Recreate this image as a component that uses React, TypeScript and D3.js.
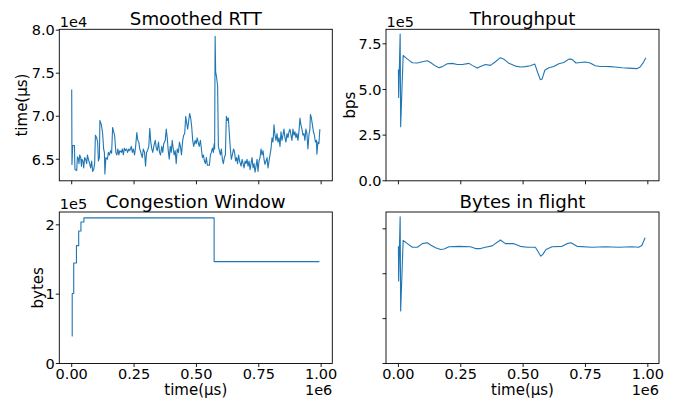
import React from 'react';
import * as d3 from 'd3';

// smoothed RTT, time in ms, value in µs
const rttTimeMs = [0, 1, 4, 11, 13, 20, 23, 27, 29, 32, 36, 39, 41, 45, 48, 52, 56, 60, 63, 67, 71, 76, 80, 84, 88, 92, 95, 100, 104, 107, 111, 113, 119, 124, 128, 131, 133, 137, 143, 147, 151, 156, 160, 164, 168, 172, 177, 181, 185, 189, 193, 199, 203, 207, 211, 215, 220, 224, 229, 233, 239, 243, 247, 252, 256, 261, 265, 269, 273, 277, 283, 287, 292, 296, 300, 304, 309, 313, 317, 321, 325, 329, 335, 339, 343, 348, 352, 356, 361, 365, 369, 375, 379, 383, 387, 391, 395, 399, 403, 407, 411, 415, 419, 423, 428, 432, 436, 440, 445, 449, 453, 457, 461, 465, 469, 473, 477, 481, 485, 489, 495, 499, 503, 507, 511, 516, 520, 524, 528, 532, 536, 540, 544, 548, 552, 556, 560, 564, 568, 571, 573, 575, 577, 581, 585, 588, 592, 596, 600, 604, 608, 612, 616, 620, 624, 628, 632, 636, 640, 644, 649, 653, 657, 661, 665, 669, 673, 679, 683, 687, 691, 695, 699, 703, 707, 711, 715, 719, 723, 727, 731, 735, 739, 743, 747, 751, 755, 759, 763, 767, 771, 775, 779, 783, 787, 791, 795, 799, 803, 807, 811, 815, 819, 823, 827, 831, 835, 839, 843, 847, 851, 855, 859, 863, 867, 871, 875, 879, 883, 887, 891, 895, 899, 903, 907, 911, 915, 919, 923, 927, 931, 935, 939, 943, 947, 951, 955, 957, 961, 965, 969, 973, 977, 981, 983, 987, 991, 995];
const rttValue = [73100, 64400, 66600, 66600, 63800, 63700, 65300, 65000, 64500, 65500, 65200, 64200, 65000, 64800, 64000, 65200, 65000, 64500, 65500, 65000, 64600, 64000, 64800, 63600, 63800, 64500, 67800, 67500, 67000, 64800, 65200, 69500, 69000, 68000, 66200, 65800, 63300, 65200, 65000, 65800, 65500, 66000, 65700, 68700, 68200, 67800, 65800, 65500, 66200, 65500, 66000, 65800, 66200, 65500, 66300, 66000, 66200, 65800, 66200, 66000, 66500, 65800, 66200, 65500, 66400, 68100, 67200, 67000, 66200, 65800, 65200, 66200, 65800, 64200, 65800, 66000, 66500, 68600, 67000, 66200, 65800, 66500, 67200, 66300, 66000, 67000, 65800, 65500, 66500, 65800, 66800, 67200, 68500, 67500, 66000, 65000, 66500, 65800, 67200, 66200, 65500, 66000, 64500, 66200, 65800, 67000, 66500, 65500, 67200, 67800, 68000, 70000, 69200, 68500, 69500, 70300, 69800, 68800, 67200, 66500, 67200, 66800, 67500, 67000, 66500, 67200, 66200, 65200, 65500, 64800, 64500, 65200, 64300, 64300, 64300, 65500, 65800, 66300, 65800, 66800, 66200, 79300, 75200, 74500, 73500, 66500, 66000, 65500, 66200, 65000, 64500, 65200, 65500, 70000, 69500, 69800, 68000, 66200, 65000, 65500, 66200, 65800, 64800, 65200, 64500, 65500, 64800, 64200, 65000, 64500, 64000, 64800, 64500, 65000, 64200, 64800, 63800, 64500, 65200, 64000, 64500, 63500, 64200, 65000, 63600, 64800, 65200, 66200, 65500, 66000, 65000, 64400, 64800, 65200, 64000, 64800, 65500, 66200, 67500, 67000, 69000, 67800, 67200, 68000, 67000, 67500, 66500, 68200, 67200, 67800, 68500, 67500, 67000, 68000, 67500, 68200, 68500, 67800, 67200, 68500, 67800, 68200, 67500, 68000, 67200, 68200, 69800, 69000, 68500, 67800, 68000, 67200, 68500, 68000, 66200, 67800, 68500, 70200, 69800, 69000, 68200, 67800, 67000, 67200, 65600, 67000, 66800, 68500];

// throughput, bps
const tputTimeMs = [0, 1, 7, 9, 19, 29, 43, 56, 76, 96, 116, 129, 149, 163, 176, 196, 216, 236, 256, 283, 296, 316, 329, 349, 369, 389, 409, 423, 443, 469, 489, 509, 529, 547, 559, 569, 576, 587, 603, 623, 643, 663, 683, 696, 712, 729, 749, 769, 789, 809, 829, 849, 869, 896, 923, 956, 969, 983, 992];
const tputValue = [610000, 456000, 804000, 296000, 686000, 674000, 659000, 646000, 645000, 652000, 657000, 648000, 628000, 619000, 625000, 641000, 643000, 637000, 637000, 643000, 632000, 617000, 626000, 637000, 632000, 652000, 674000, 666000, 643000, 628000, 623000, 625000, 630000, 639000, 590000, 554000, 557000, 605000, 619000, 626000, 641000, 648000, 666000, 665000, 645000, 648000, 650000, 645000, 630000, 626000, 626000, 625000, 623000, 619000, 617000, 614000, 623000, 650000, 674000];

// congestion window, bytes (step changes)
const cwndTimeMs = [0, 2, 8, 19, 28, 37, 49, 571, 993];
const cwndValue = [39800, 101000, 145000, 170000, 191000, 204000, 210000, 147000, 147000];

// bytes in flight
const bifTimeMs = [0, 1, 7, 9, 19, 36, 56, 76, 96, 116, 129, 149, 169, 183, 203, 243, 289, 309, 329, 349, 376, 409, 429, 463, 489, 516, 549, 559, 571, 579, 592, 616, 656, 676, 692, 716, 776, 829, 883, 936, 963, 976, 989];
const bifValue = [130500, 92000, 163500, 58500, 137000, 133500, 129500, 129500, 133500, 134500, 132000, 129000, 127000, 127500, 130000, 130500, 130000, 128000, 128000, 129500, 131000, 137500, 133500, 133500, 130500, 129500, 129500, 125000, 119500, 121500, 127000, 130000, 130500, 133500, 134500, 130500, 129500, 130000, 129500, 130000, 129500, 131500, 140000];

const xTicks = [0, 250000, 500000, 750000, 1000000];
const rttTicks = [65000, 70000, 75000, 80000];
const tputTicks = [0, 250000, 500000, 750000];
const cwndTicks = [0, 100000, 200000];
const bifTicks = [0, 50000, 100000, 150000];

const FONT = 'DejaVu Sans, sans-serif';
const COLOR = '#1f77b4';

type Pt = { t: number; v: number };
const zip = (ts: number[], vs: number[]): Pt[] => ts.map((t, i) => ({ t: t * 1000, v: vs[i] }));

const allT = [...rttTimeMs, ...tputTimeMs, ...cwndTimeMs, ...bifTimeMs].map(t => t * 1000);
const tMin = d3.min(allT)!;
const tMax = d3.max(allT)!;
const tPad = (tMax - tMin) * 0.05;
const xDomain: [number, number] = [tMin - tPad, tMax + tPad];

function yDom(vs: number[], zero: boolean): [number, number] {
  const lo = d3.min(vs)!;
  const hi = d3.max(vs)!;
  const pad = (hi - lo) * 0.05;
  return [zero ? 0 : lo - pad, hi + pad];
}

type PanelProps = {
  left: number; top: number; width: number; height: number;
  title: string; data: Pt[]; step?: boolean;
  yDomain: [number, number]; yTicks: number[];
  yFmt?: (v: number) => string; offset?: string;
  yLabel?: string; yLabelX?: number; bottomRow: boolean;
};

function Panel(p: PanelProps) {
  const x = d3.scaleLinear().domain(xDomain).range([p.left, p.left + p.width]);
  const y = d3.scaleLinear().domain(p.yDomain).range([p.top + p.height, p.top]);
  const line = d3.line<Pt>()
    .x(d => x(d.t))
    .y(d => y(d.v))
    .curve(p.step ? d3.curveStepAfter : d3.curveLinear);
  const bottom = p.top + p.height;
  const cx = p.left + p.width / 2;
  return (
    <g>
      <path d={line(p.data) || ''} fill="none" stroke={COLOR} strokeWidth={1.1} strokeLinejoin="round" />
      <rect x={p.left} y={p.top} width={p.width} height={p.height} fill="none" stroke="#000" strokeWidth={0.9} />
      {xTicks.map(t => (
        <g key={'x' + t}>
          <line x1={x(t)} x2={x(t)} y1={bottom} y2={bottom + 3.5} stroke="#000" strokeWidth={0.9} />
          {p.bottomRow && (
            <text x={x(t)} y={bottom + 15} textAnchor="middle" fontSize={14.5} fontFamily={FONT}>
              {(t / 1e6).toFixed(2)}
            </text>
          )}
        </g>
      ))}
      {p.yTicks.map(v => (
        <g key={'y' + v}>
          <line x1={p.left - 3.5} x2={p.left} y1={y(v)} y2={y(v)} stroke="#000" strokeWidth={0.9} />
          {p.yFmt && (
            <text x={p.left - 4.5} y={y(v)} dy="0.36em" textAnchor="end" fontSize={14.5} fontFamily={FONT}>
              {p.yFmt(v)}
            </text>
          )}
        </g>
      ))}
      <text x={cx} y={p.top - 4.3} textAnchor="middle" fontSize={18.2} fontFamily={FONT}>{p.title}</text>
      {p.offset && (
        <text x={p.left + 0.5} y={p.top - 2.7} fontSize={14.5} fontFamily={FONT}>{p.offset}</text>
      )}
      {p.yLabel && (
        <text transform={`translate(${p.yLabelX},${p.top + p.height / 2}) rotate(-90)`} textAnchor="middle" fontSize={15} fontFamily={FONT}>
          {p.yLabel}
        </text>
      )}
      {p.bottomRow && (
        <>
          <text x={cx} y={394.5} textAnchor="middle" fontSize={15} fontFamily={FONT}>time(µs)</text>
          <text x={p.left + p.width} y={394.5} textAnchor="end" fontSize={14.5} fontFamily={FONT}>1e6</text>
        </>
      )}
    </g>
  );
}

export default function App() {
  const L1 = 59.3, L2 = 386, W = 273, T1 = 29.3, T2 = 212, H = 151.5;
  return (
    <svg width={681} height={399} style={{ position: 'absolute', left: 0, top: 0, background: '#fff' }}>
      <Panel left={L1} top={T1} width={W} height={H} title="Smoothed RTT"
        data={zip(rttTimeMs, rttValue)} yDomain={yDom(rttValue, false)} yTicks={rttTicks}
        yFmt={v => (v / 1e4).toFixed(1)} offset="1e4" yLabel="time(µs)" yLabelX={26.5} bottomRow={false} />
      <Panel left={L2} top={T1} width={W} height={H} title="Throughput"
        data={zip(tputTimeMs, tputValue)} yDomain={yDom(tputValue, true)} yTicks={tputTicks}
        yFmt={v => (v / 1e5).toFixed(1)} offset="1e5" yLabel="bps" yLabelX={355} bottomRow={false} />
      <Panel left={L1} top={T2} width={W} height={H} title="Congestion Window" step
        data={zip(cwndTimeMs, cwndValue)} yDomain={yDom(cwndValue, true)} yTicks={cwndTicks}
        yFmt={v => (v / 1e5).toFixed(0)} offset="1e5" yLabel="bytes" yLabelX={42.5} bottomRow={true} />
      <Panel left={L2} top={T2} width={W} height={H} title="Bytes in flight"
        data={zip(bifTimeMs, bifValue)} yDomain={yDom(bifValue, true)} yTicks={bifTicks}
        bottomRow={true} />
    </svg>
  );
}
